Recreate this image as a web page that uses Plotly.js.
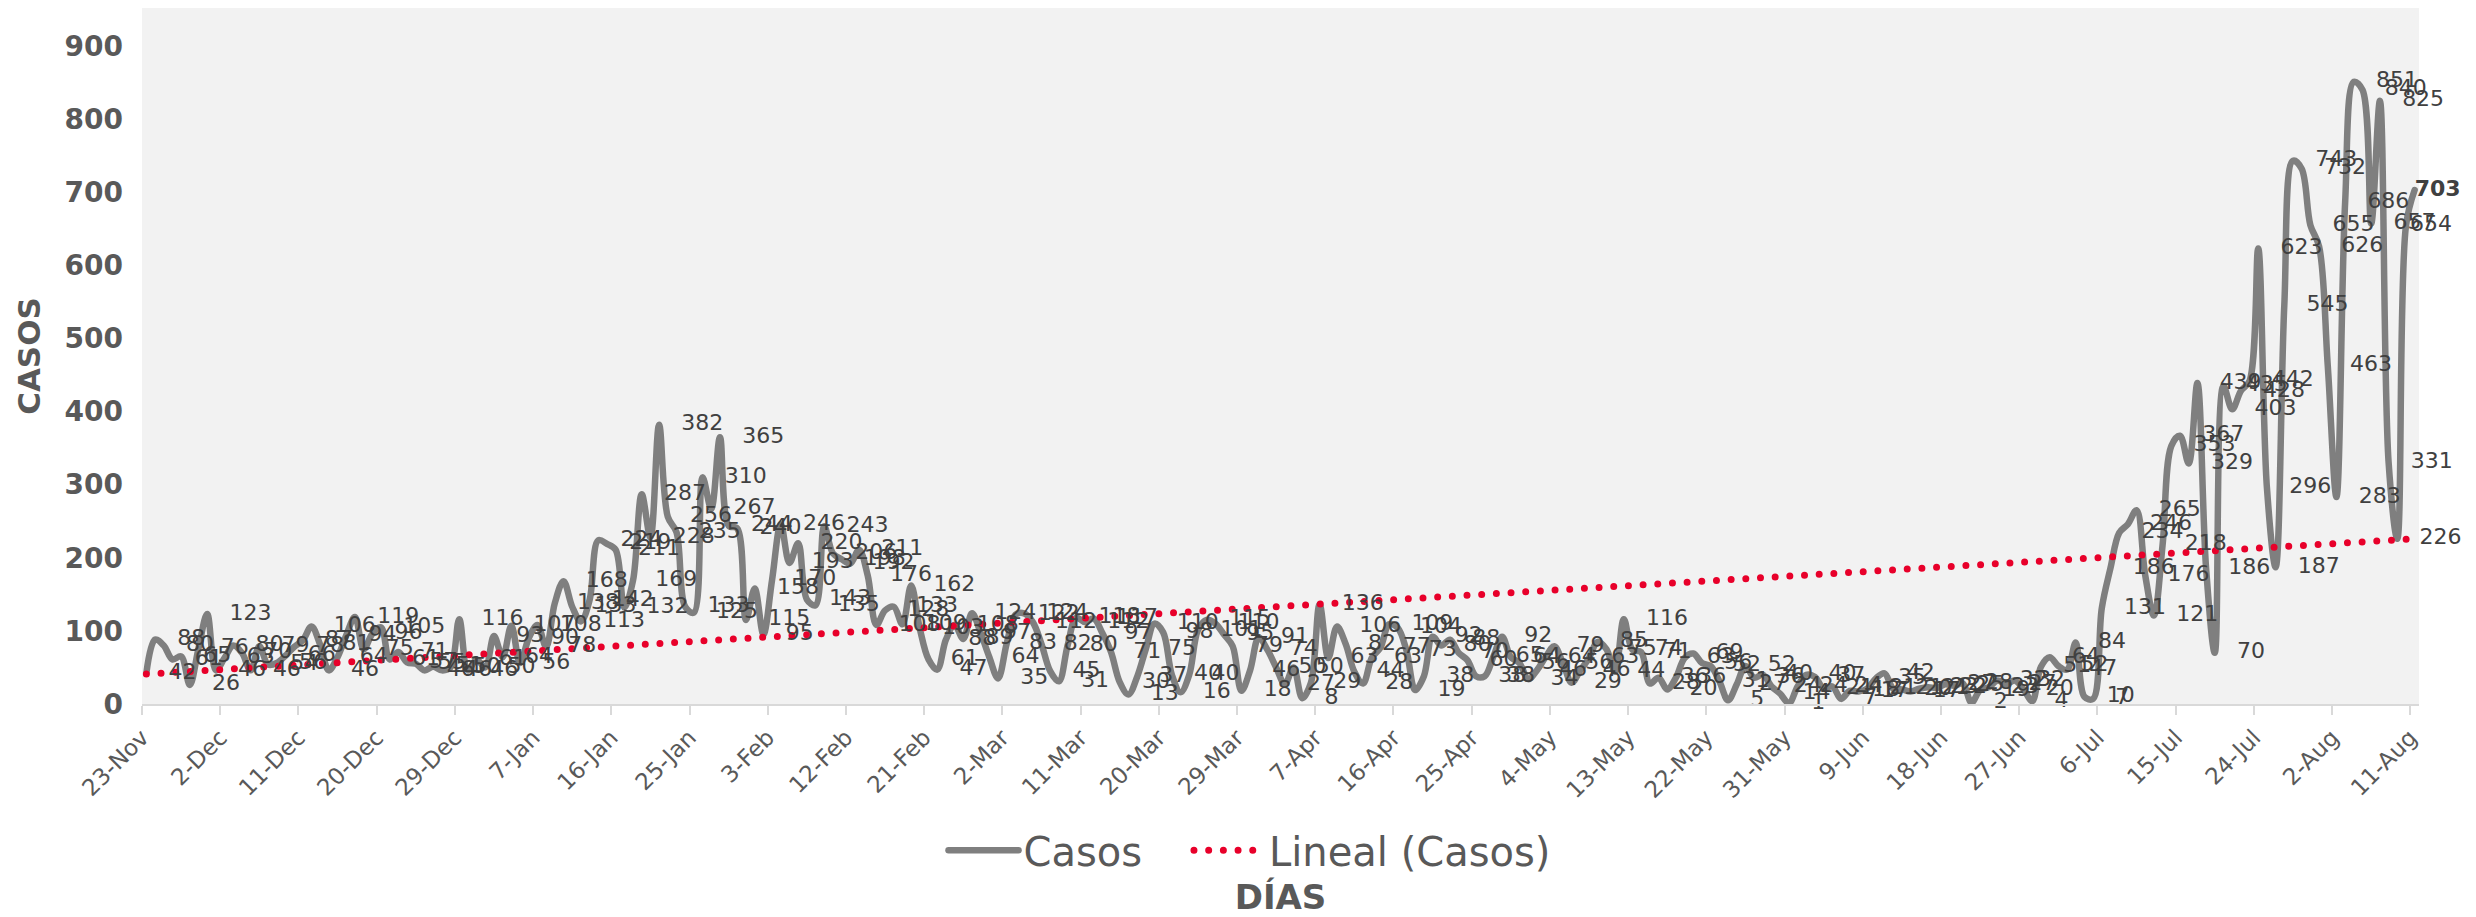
<!DOCTYPE html>
<html>
<head>
<meta charset="utf-8">
<script src="https://cdn.plot.ly/plotly-3.0.1.min.js"></script>
<style>
html,body{margin:0;padding:0;background:#ffffff;}
#chart{width:2476px;height:917px;}
.js-line{stroke-linecap:round;stroke-linejoin:round;}
</style>
</head>
<body>
<div id="chart"></div>
<script>
// ---- data ----
const startYear = 2020, startMonth = 10, startDay = 23; // 23-Nov-2020, one point per day
const casos = [
  42, 88, 80, 61, 65, 26, 76, 123, 46, 63,
  80, 70, 46, 79, 54, 56, 66, 78, 87, 106,
  81, 46, 64, 94, 119, 75, 96, 105, 61, 71,
  57, 55, 46, 51, 46, 50, 116, 46, 61, 50,
  93, 64, 107, 56, 90, 108, 78, 138, 168, 133,
  113, 142, 224, 219, 211, 132, 169, 287, 228, 382,
  256, 235, 133, 125, 310, 267, 365, 244, 240, 115,
  158, 95, 170, 246, 193, 220, 143, 135, 243, 206,
  198, 192, 211, 176, 108, 128, 133, 109, 162, 103,
  61, 47, 88, 108, 89, 124, 97, 64, 35, 83,
  122, 124, 112, 82, 45, 31, 80, 118, 112, 117,
  97, 71, 30, 13, 37, 75, 110, 98, 40, 16,
  40, 101, 115, 110, 95, 79, 18, 46, 91, 74,
  50, 27, 50, 8, 29, 136, 63, 106, 82, 44,
  28, 63, 77, 109, 104, 73, 19, 38, 92, 80,
  88, 70, 60, 38, 38, 65, 92, 64, 56, 34,
  46, 64, 79, 56, 29, 46, 63, 85, 75, 44,
  116, 74, 71, 28, 36, 20, 36, 63, 69, 56,
  52, 31, 5, 27, 52, 36, 40, 24, 14, 1,
  24, 40, 37, 21, 24, 7, 18, 17, 21, 35,
  42, 21, 20, 17, 21, 23, 22, 27, 25, 28,
  2, 19, 23, 32, 27, 32, 20, 4, 51, 64,
  52, 47, 84, 10, 7, 131, 186, 234, 246, 265,
  176, 121, 218, 353, 367, 329, 439, 186, 70, 435,
  403, 428, 442, 623, 296, 187, 545, 743, 732, 655,
  626, 463, 283, 686, 851, 840, 657, 825, 331, 226,
  654, 703
];
const trendEnds = [41, 226];          // Lineal (Casos): value at first and last day
const tickLabels = ['23-Nov','2-Dec','11-Dec','20-Dec','29-Dec','7-Jan','16-Jan','25-Jan','3-Feb','12-Feb',
  '21-Feb','2-Mar','11-Mar','20-Mar','29-Mar','7-Apr','16-Apr','25-Apr','4-May','13-May',
  '22-May','31-May','9-Jun','18-Jun','27-Jun','6-Jul','15-Jul','24-Jul','2-Aug','11-Aug'];
const tickStep = 9;
const yTicks = [0,100,200,300,400,500,600,700,800,900];
const seriesNames = ['Casos', 'Lineal (Casos)'];
const xTitle = 'DÍAS';
const yTitle = 'CASOS';

// ---- helpers ----
function pad(n){ return (n < 10 ? '0' : '') + n; }
function dayStr(i, hour){
  const d = new Date(Date.UTC(startYear, startMonth, startDay + i, hour));
  return d.getUTCFullYear() + '-' + pad(d.getUTCMonth() + 1) + '-' + pad(d.getUTCDate()) + ' ' + pad(d.getUTCHours()) + ':00';
}
const n = casos.length;
const xDates = casos.map((v, i) => dayStr(i, 12));
const tickVals = tickLabels.map((t, k) => dayStr(k * tickStep, 0));
const labelText = casos.map((v, i) => i === n - 1 ? '<b>' + v + '</b>' : String(v));
const labelSizes = casos.map((v, i) => i === n - 1 ? 0 : (i === n - 2 ? 5 : 34));

const FONT = 'DejaVu Sans, Verdana, sans-serif';
const legendFont = {family: FONT, size: 40, color: '#595959'};

const traces = [
  {
    type: 'scatter', mode: 'lines', name: seriesNames[0], legend: 'legend',
    x: xDates, y: casos,
    line: {color: '#7f7f7f', width: 6.5, shape: 'spline', smoothing: 1},
    hoverinfo: 'skip'
  },
  {
    type: 'scatter', mode: 'lines', name: seriesNames[1], legend: 'legend2',
    x: [xDates[0], xDates[n - 1]], y: trendEnds,
    line: {color: '#e8002a', width: 7, dash: '0px,14.7px'},
    hoverinfo: 'skip'
  },
  {
    type: 'scatter', mode: 'markers+text', showlegend: false,
    x: xDates, y: casos, text: labelText,
    textposition: 'middle right',
    textfont: {family: FONT, size: 22, color: '#404040'},
    marker: {size: labelSizes, color: 'rgba(0,0,0,0)', opacity: 0},
    cliponaxis: false,
    hoverinfo: 'skip'
  }
];

const layout = {
  width: 2476, height: 917,
  margin: {l: 142, r: 57, t: 8, b: 213},
  paper_bgcolor: '#ffffff',
  plot_bgcolor: '#f2f2f2',
  font: {family: FONT, color: '#595959'},
  showlegend: true,
  legend: {
    orientation: 'h', x: 0.352, xanchor: 'left', y: -0.21, yanchor: 'middle',
    font: legendFont, itemwidth: 70, bgcolor: 'rgba(0,0,0,0)'
  },
  legend2: {
    orientation: 'h', x: 0.4598, xanchor: 'left', y: -0.21, yanchor: 'middle',
    font: legendFont, itemwidth: 70, bgcolor: 'rgba(0,0,0,0)'
  },
  xaxis: {
    type: 'date',
    range: [dayStr(0, 0), dayStr(n, 0)],
    tickmode: 'array', tickvals: tickVals, ticktext: tickLabels,
    tickangle: -45,
    tickfont: {family: FONT, size: 23, color: '#595959'},
    ticks: 'outside', ticklen: 9, tickwidth: 2, tickcolor: '#d9d9d9',
    showline: true, linecolor: '#d9d9d9', linewidth: 2,
    showgrid: false, zeroline: false,
    title: {text: xTitle, font: {family: FONT, size: 34, color: '#595959', weight: 'bold'}, standoff: 92}
  },
  yaxis: {
    range: [0, 952],
    tickmode: 'array', tickvals: yTicks,
    tickfont: {family: FONT, size: 28, color: '#595959', weight: 'bold'},
    ticklabelstandoff: 18,
    showline: false, showgrid: false, zeroline: false, ticks: '',
    title: {text: yTitle, font: {family: FONT, size: 31, color: '#595959', weight: 'bold'}, standoff: 14}
  }
};

Plotly.newPlot('chart', traces, layout, {staticPlot: true, displayModeBar: false});
</script>
</body>
</html>
